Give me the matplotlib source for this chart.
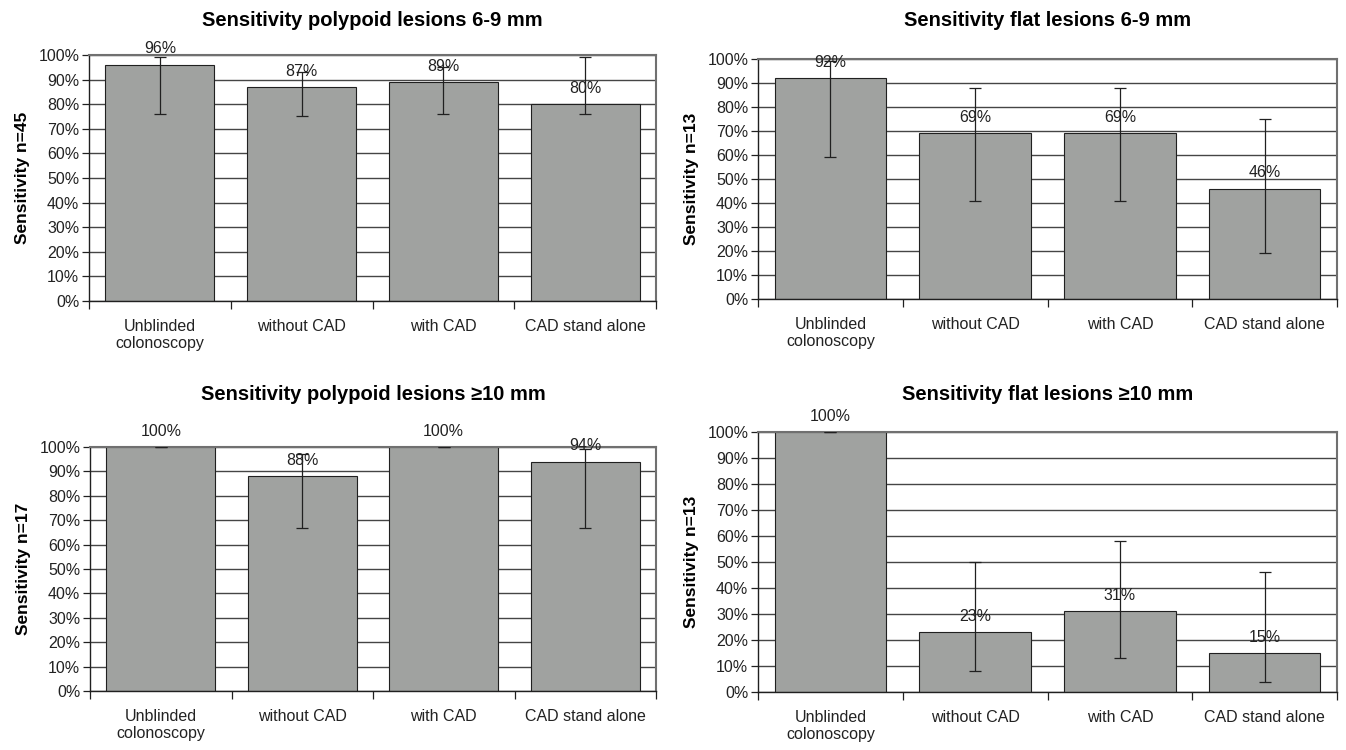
import numpy as np
import matplotlib.pyplot as plt
from matplotlib.ticker import FuncFormatter, MultipleLocator, FixedLocator

plt.rcParams['font.family'] = ['Liberation Sans', 'DejaVu Sans']

categories = ['Unblinded\ncolonoscopy', 'without CAD', 'with CAD', 'CAD stand alone']

titles = ['Sensitivity polypoid lesions 6-9 mm',
          'Sensitivity flat lesions 6-9 mm',
          'Sensitivity polypoid lesions \u226510 mm',
          'Sensitivity flat lesions \u226510 mm']
ylabels = ['Sensitivity n=45', 'Sensitivity n=13', 'Sensitivity n=17', 'Sensitivity n=13']

# sensitivity (%) and confidence limits
poly_small = [96, 87, 89, 80]
poly_small_lo = [76, 75, 76, 76]
poly_small_hi = [99, 93, 95, 99]

flat_small = [92, 69, 69, 46]
flat_small_lo = [59, 41, 41, 19]
flat_small_hi = [99, 88, 88, 75]

poly_large = [100, 88, 100, 94]
poly_large_lo = [100, 67, 100, 67]
poly_large_hi = [100, 97, 100, 99]

flat_large = [100, 23, 31, 15]
flat_large_lo = [100, 8, 13, 4]
flat_large_hi = [100, 50, 58, 46]

panels = [(poly_small, poly_small_lo, poly_small_hi),
          (flat_small, flat_small_lo, flat_small_hi),
          (poly_large, poly_large_lo, poly_large_hi),
          (flat_large, flat_large_lo, flat_large_hi)]

W, H = 1346, 750
# axes boxes in pixels: left, right, top, bottom
boxes = [(89, 656, 55, 301),
         (758, 1337, 59, 299),
         (90, 656, 447, 691),
         (758, 1337, 432, 692)]

fig = plt.figure(figsize=(W / 100, H / 100), dpi=100)

for i, (vals, lo, hi) in enumerate(panels):
    l, r, t, b = boxes[i]
    ax = fig.add_axes([l / W, 1 - b / H, (r - l) / W, (b - t) / H])
    x = np.arange(len(categories))
    vals = np.array(vals)
    lo = np.array(lo)
    hi = np.array(hi)

    ax.set_axisbelow(True)
    ax.yaxis.grid(True, color='#454545', linewidth=1.0)
    ax.bar(x, vals, width=0.77, color='#a0a2a0', edgecolor='#202020', linewidth=0.8, zorder=2)
    ax.errorbar(x, vals, yerr=[vals - lo, hi - vals], fmt='none', ecolor='#202020',
                elinewidth=0.9, capsize=4, capthick=0.9, zorder=3)
    for xi, v in zip(x, vals):
        ax.annotate(f'{v}%', (xi, v), xytext=(0, 11.5), textcoords='offset points',
                    ha='center', va='center', fontsize=11.5, color='#222222', zorder=4)

    ax.set_xlim(-0.5, 3.5)
    ax.set_ylim(0, 100)
    ax.yaxis.set_major_locator(MultipleLocator(10))
    ax.yaxis.set_major_formatter(FuncFormatter(lambda v, p: f'{v:.0f}%'))
    ax.set_xticks(x)
    ax.set_xticklabels(categories, fontsize=11.5, color='#222222', linespacing=1.15)
    ax.xaxis.set_minor_locator(FixedLocator([-0.5, 0.5, 1.5, 2.5, 3.5]))
    ax.tick_params(axis='x', which='major', length=0, pad=13)
    ax.tick_params(axis='x', which='minor', length=6, width=0.9, color='#202020', direction='out')
    ax.tick_params(axis='y', length=5, width=0.9, color='#202020', labelsize=11.5,
                   labelcolor='#222222', pad=2)

    for s in ['left', 'bottom']:
        ax.spines[s].set_color('#202020')
        ax.spines[s].set_linewidth(1.0)
    for s in ['top', 'right']:
        ax.spines[s].set_color('#707070')
        ax.spines[s].set_linewidth(1.5)

    ax.set_ylabel(ylabels[i], fontsize=12.5, fontweight='bold', labelpad=6)
    title_y = 20 if i < 2 else 394
    fig.text((l + r) / 2 / W, 1 - title_y / H, titles[i], ha='center', va='center',
             fontsize=14.5, fontweight='bold')

fig.savefig('out.png', dpi=100)
